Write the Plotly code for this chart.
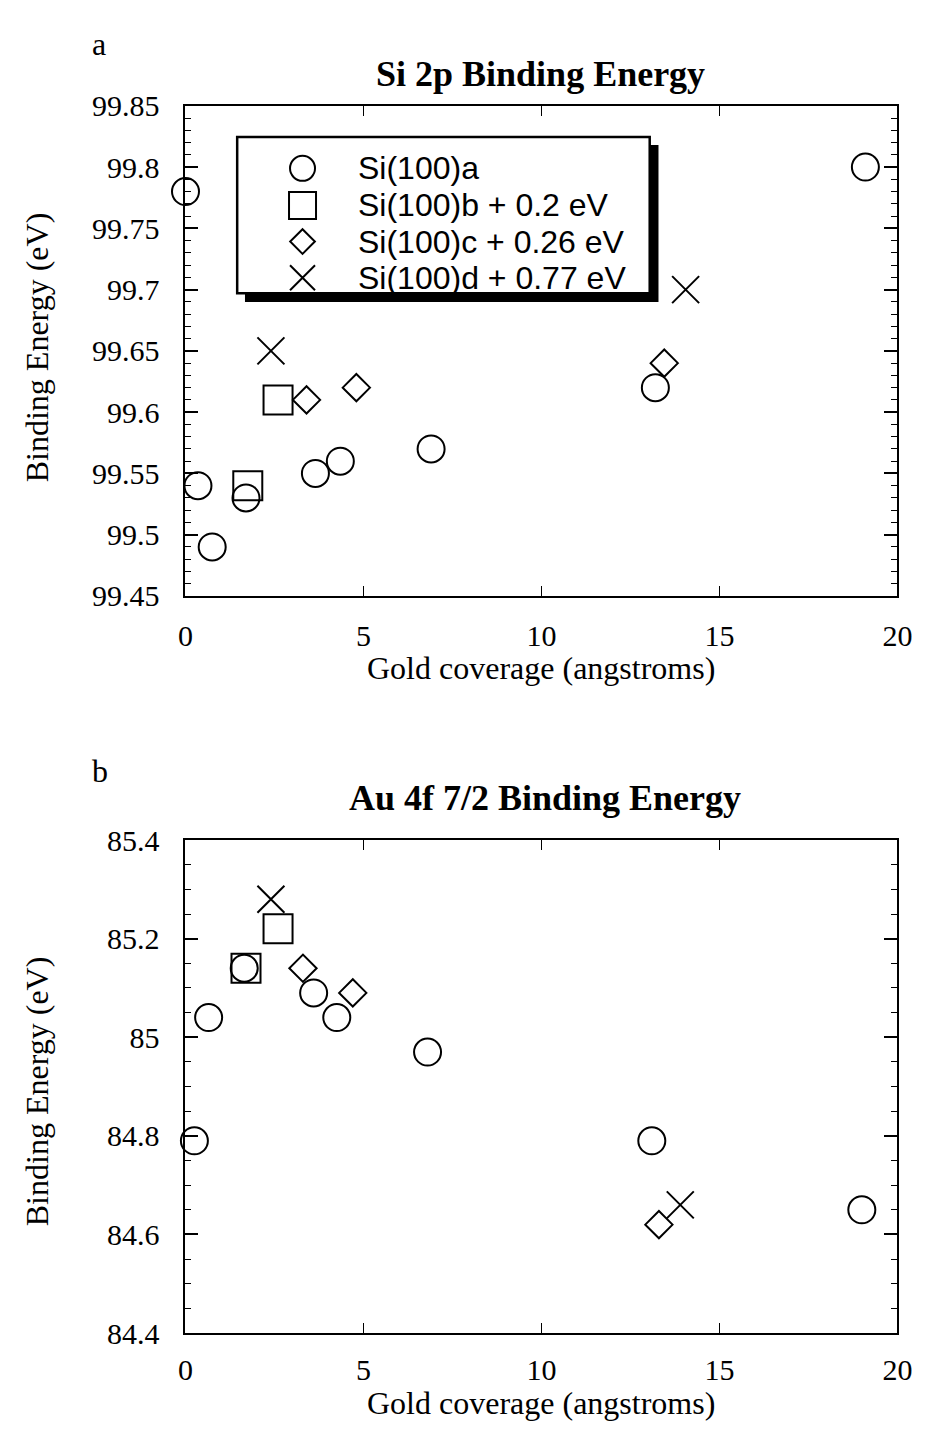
import plotly.graph_objects as go

W, H = 929, 1437

# ---------------- data ----------------
# Panel a: Si 2p binding energy
a_top_x = [0.0, 0.35, 0.75, 1.7, 3.65, 4.35, 6.9, 13.2, 19.1]
a_top_y = [99.78, 99.54, 99.49, 99.53, 99.55, 99.56, 99.57, 99.62, 99.80]
b_top_x = [1.75, 2.6]
b_top_y = [99.54, 99.61]
c_top_x = [3.4, 4.8, 13.45]
c_top_y = [99.61, 99.62, 99.64]
d_top_x = [2.4, 14.05]
d_top_y = [99.65, 99.70]

# Panel b: Au 4f 7/2 binding energy
a_bot_x = [0.25, 0.65, 1.65, 3.6, 4.25, 6.8, 13.1, 19.0]
a_bot_y = [84.79, 85.04, 85.14, 85.09, 85.04, 84.97, 84.79, 84.65]
b_bot_x = [1.7, 2.6]
b_bot_y = [85.14, 85.22]
c_bot_x = [3.3, 4.7, 13.3]
c_bot_y = [85.14, 85.09, 84.62]
d_bot_x = [2.4, 13.9]
d_bot_y = [85.28, 84.66]

x_ticks = [0, 5, 10, 15, 20]
top_y_ticks = [99.45, 99.5, 99.55, 99.6, 99.65, 99.7, 99.75, 99.8, 99.85]
top_y_text = ["99.45", "99.5", "99.55", "99.6", "99.65", "99.7", "99.75", "99.8", "99.85"]
bot_y_ticks = [84.4, 84.6, 84.8, 85.0, 85.2, 85.4]
bot_y_text = ["84.4", "84.6", "84.8", "85", "85.2", "85.4"]

legend_names = ["Si(100)a", "Si(100)b + 0.2 eV", "Si(100)c + 0.26 eV", "Si(100)d + 0.77 eV"]

# ---------------- styles ----------------
SERIF = "Liberation Serif, Times New Roman, serif"
SANS = "Liberation Sans, Arial, sans-serif"
styles = [
    dict(symbol="circle-open", size=27),
    dict(symbol="square-open", size=29),
    dict(symbol="diamond-open", size=21),
    dict(symbol="x-thin-open", size=27),
]

def px(x):
    return x / W

def py(y):
    return 1 - y / H

fig = go.Figure()

top_sets = [(a_top_x, a_top_y), (b_top_x, b_top_y), (c_top_x, c_top_y), (d_top_x, d_top_y)]
bot_sets = [(a_bot_x, a_bot_y), (b_bot_x, b_bot_y), (c_bot_x, c_bot_y), (d_bot_x, d_bot_y)]

for (xs, ys), st, nm in zip(top_sets, styles, legend_names):
    fig.add_trace(go.Scatter(
        x=xs, y=ys, mode="markers", name=nm, showlegend=False, cliponaxis=False,
        marker=dict(symbol=st["symbol"], size=st["size"], color="black",
                    line=dict(color="black", width=2)),
        xaxis="x", yaxis="y"))
for (xs, ys), st, nm in zip(bot_sets, styles, legend_names):
    fig.add_trace(go.Scatter(
        x=xs, y=ys, mode="markers", name=nm, showlegend=False, cliponaxis=False,
        marker=dict(symbol=st["symbol"], size=st["size"], color="black",
                    line=dict(color="black", width=2)),
        xaxis="x2", yaxis="y2"))

# manual legend (pixel-space helper axis)
leg_sym_x = 302
leg_row_y = [155, 193, 230, 267]
leg_text_x = 357
for st, ry, nm in zip(styles, leg_row_y, legend_names):
    fig.add_trace(go.Scatter(
        x=[leg_sym_x], y=[ry], mode="markers", showlegend=False, cliponaxis=False,
        hoverinfo="skip",
        marker=dict(symbol=st["symbol"], size=st["size"] - 2, color="black",
                    line=dict(color="black", width=2)),
        xaxis="x3", yaxis="y3"))

x_dom = [px(182), px(912)]
top_dom = [py(593), py(91)]
bot_dom = [py(1348), py(843)]

def xaxis_cfg(domain, anchor, standoff):
    return dict(domain=domain, anchor=anchor, range=[0, 20], tickvals=x_ticks,
                ticks="inside", ticklen=10, tickwidth=1, tickcolor="black",
                showline=True, linecolor="black", linewidth=2,
                mirror="ticks", showgrid=False, zeroline=False,
                tickfont=dict(family=SERIF, size=30, color="black"),
                ticklabelstandoff=standoff)

def yaxis_cfg(domain, anchor, rng, vals, text, minor_dt):
    return dict(domain=domain, anchor=anchor, range=rng,
                tickvals=vals, ticktext=text,
                ticks="inside", ticklen=13, tickwidth=1.5, tickcolor="black",
                minor=dict(dtick=minor_dt, ticks="inside", ticklen=6, tickwidth=1.2, tickcolor="black"),
                showline=True, linecolor="black", linewidth=2, mirror="ticks",
                showgrid=False, zeroline=False,
                tickfont=dict(family=SERIF, size=30, color="black"),
                ticklabelstandoff=18)

fig.update_layout(
    width=W, height=H,
    margin=dict(l=0, r=0, t=0, b=0),
    paper_bgcolor="white", plot_bgcolor="rgba(0,0,0,0)",
    xaxis=xaxis_cfg(x_dom, "y", 12),
    yaxis=yaxis_cfg(top_dom, "x", [99.45, 99.85], top_y_ticks, top_y_text, 0.01),
    xaxis2=xaxis_cfg(x_dom, "y2", 9),
    yaxis2=yaxis_cfg(bot_dom, "x2", [84.4, 85.4], bot_y_ticks, bot_y_text, 0.05),
    xaxis3=dict(domain=[0, 1], range=[0, W], visible=False, fixedrange=True, anchor="y3"),
    yaxis3=dict(domain=[0, 1], range=[H, 0], visible=False, fixedrange=True, anchor="x3"),
)

shapes = []
# legend shadow + box
shapes.append(dict(type="rect", xref="paper", yref="paper",
                   x0=px(243), x1=px(667), y0=py(292), y1=py(131),
                   fillcolor="black", line=dict(width=0), layer="below"))
shapes.append(dict(type="rect", xref="paper", yref="paper",
                   x0=px(235), x1=px(658), y0=py(283), y1=py(123),
                   fillcolor="white", line=dict(color="black", width=2.5), layer="below"))
fig.update_layout(shapes=shapes)

ann = []
for ry, nm in zip(leg_row_y, legend_names):
    ann.append(dict(x=px(leg_text_x), y=py(ry), xref="paper", yref="paper", text=nm,
                    showarrow=False, xanchor="left", yanchor="middle",
                    font=dict(family=SANS, size=32, color="black")))

# titles and labels
ann += [
    dict(x=px(84), y=py(28), text="a", xanchor="left", yanchor="middle",
         font=dict(family=SERIF, size=32, color="black")),
    dict(x=px(84), y=py(772), text="b", xanchor="left", yanchor="middle",
         font=dict(family=SERIF, size=32, color="black")),
    dict(x=px(546), y=py(58), text="<b>Si 2p Binding Energy</b>", xanchor="center", yanchor="middle",
         font=dict(family=SERIF, size=36, color="black")),
    dict(x=px(551), y=py(800), text="<b>Au 4f 7/2 Binding Energy</b>", xanchor="center", yanchor="middle",
         font=dict(family=SERIF, size=36, color="black")),
    dict(x=px(547), y=py(667), text="Gold coverage (angstroms)", xanchor="center", yanchor="middle",
         font=dict(family=SERIF, size=32, color="black")),
    dict(x=px(547), y=py(1420), text="Gold coverage (angstroms)", xanchor="center", yanchor="middle",
         font=dict(family=SERIF, size=32, color="black")),
    dict(x=px(30), y=py(338), text="Binding Energy (eV)", textangle=-90, xanchor="center", yanchor="middle",
         font=dict(family=SERIF, size=32, color="black")),
    dict(x=px(30), y=py(1100), text="Binding Energy (eV)", textangle=-90, xanchor="center", yanchor="middle",
         font=dict(family=SERIF, size=32, color="black")),
]
for a in ann:
    a.setdefault("showarrow", False)
    a.setdefault("xref", "paper")
    a.setdefault("yref", "paper")
fig.update_layout(annotations=ann)

fig.write_html("out.html")
